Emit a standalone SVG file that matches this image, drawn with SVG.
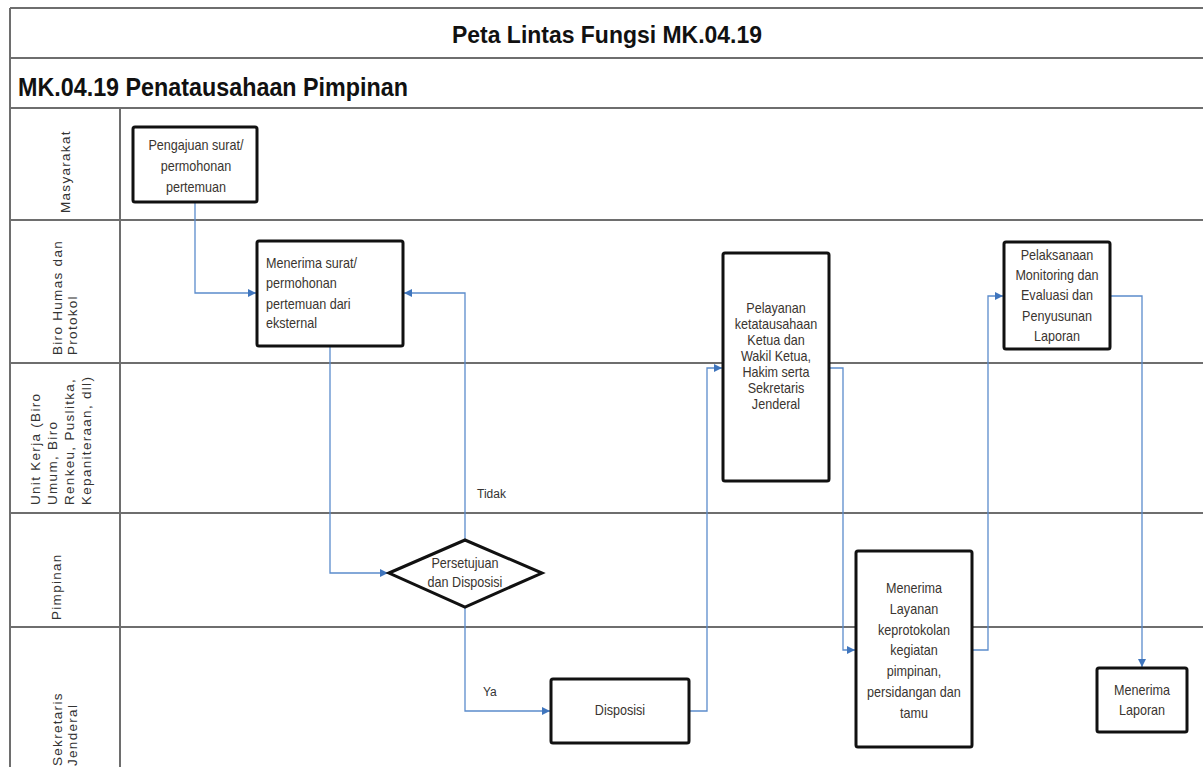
<svg xmlns="http://www.w3.org/2000/svg" width="1203" height="767" viewBox="0 0 1203 767">
<defs>
<style>
.grid{stroke:#6e6e6e;stroke-width:2;fill:none}
.box{fill:#fff;stroke:#111;stroke-width:3}
.t{font-family:"Liberation Sans",Arial,sans-serif;font-size:14px;fill:#3a3530}
.c{text-anchor:middle}
.lane{font-family:"Liberation Sans",Arial,sans-serif;font-size:13.5px;letter-spacing:1.3px;fill:#333}
.lbl{font-family:"Liberation Sans",Arial,sans-serif;font-size:12px;fill:#333}
.conn{stroke:#5b8ccc;stroke-width:1.3;fill:none;marker-end:url(#ah)}
</style>
<marker id="ah" viewBox="0 0 10 10" refX="10" refY="5" markerWidth="8" markerHeight="8" markerUnits="userSpaceOnUse" orient="auto">
<path d="M0,0 L10,5 L0,10 z" fill="#3f75bd"/>
</marker>
</defs>
<rect width="1203" height="767" fill="#fff"/>
<g id="frame">
<line class="grid" x1="10" y1="8" x2="1203" y2="8"/>
<line class="grid" x1="10" y1="58" x2="1203" y2="58"/>
<line class="grid" x1="10" y1="108" x2="1203" y2="108"/>
<line class="grid" x1="10" y1="220" x2="1203" y2="220"/>
<line class="grid" x1="10" y1="363" x2="1203" y2="363"/>
<line class="grid" x1="10" y1="513" x2="1203" y2="513"/>
<line class="grid" x1="10" y1="627" x2="1203" y2="627"/>
<line class="grid" x1="10" y1="8" x2="10" y2="767"/>
<line class="grid" x1="120" y1="108" x2="120" y2="767"/>
<text x="607" y="43" text-anchor="middle" textLength="310" lengthAdjust="spacingAndGlyphs" font-family="Liberation Sans,Arial,sans-serif" font-weight="bold" font-size="23" fill="#111">Peta Lintas Fungsi MK.04.19</text>
<text x="18" y="96" textLength="390" lengthAdjust="spacingAndGlyphs" font-family="Liberation Sans,Arial,sans-serif" font-weight="bold" font-size="26" fill="#111">MK.04.19 Penatausahaan Pimpinan</text>
</g>
<g id="lanes">
<text class="lane" transform="translate(70,213) rotate(-90)">Masyarakat</text>
<text class="lane" transform="translate(62,355) rotate(-90)">Biro Humas dan</text>
<text class="lane" transform="translate(77,355) rotate(-90)">Protokol</text>
<text class="lane" transform="translate(40,505) rotate(-90)">Unit Kerja (Biro</text>
<text class="lane" transform="translate(57,505) rotate(-90)">Umum, Biro</text>
<text class="lane" transform="translate(74,505) rotate(-90)">Renkeu, Puslitka,</text>
<text class="lane" transform="translate(91,505) rotate(-90)">Kepaniteraan, dll)</text>
<text class="lane" transform="translate(61,620) rotate(-90)">Pimpinan</text>
<text class="lane" transform="translate(62,766) rotate(-90)">Sekretaris</text>
<text class="lane" transform="translate(77,766) rotate(-90)">Jenderal</text>
</g>
<g id="connectors">
<polyline class="conn" points="195,203 195,293 256,293"/>
<polyline class="conn" points="330,346 330,573 388,573"/>
<polyline class="conn" points="465,539 465,293 404,293"/>
<polyline class="conn" points="465,607 465,711 550,711"/>
<polyline class="conn" points="689,711 707,711 707,368 722,368"/>
<polyline class="conn" points="830,368 843,368 843,650 855,650"/>
<polyline class="conn" points="972,650 988,650 988,296 1003,296"/>
<polyline class="conn" points="1110,296 1142,296 1142,667"/>
<text class="lbl" x="477" y="498">Tidak</text>
<text class="lbl" x="483" y="696">Ya</text>
</g>
<g id="n1">
<rect class="box" x="133" y="127" width="124" height="75" rx="2"/>
<g transform="matrix(0.9,0,0,1,19.6,0)">
<text class="t c" x="196" y="150">Pengajuan surat/</text>
<text class="t c" x="196" y="171">permohonan</text>
<text class="t c" x="196" y="192">pertemuan</text>
</g>
</g>
<g id="n2">
<rect class="box" x="257" y="241" width="146" height="105" rx="2"/>
<g transform="matrix(0.9,0,0,1,26.6,0)">
<text class="t" x="266" y="268">Menerima surat/</text>
<text class="t" x="266" y="288">permohonan</text>
<text class="t" x="266" y="309">pertemuan dari</text>
<text class="t" x="266" y="328">eksternal</text>
</g>
</g>
<g id="n3">
<polygon points="389,573 465,540 542,573 465,607" fill="#fff" stroke="#111" stroke-width="3" stroke-linejoin="miter"/>
<g transform="matrix(0.9,0,0,1,46.5,0)">
<text class="t c" x="465" y="568">Persetujuan</text>
<text class="t c" x="465" y="587">dan Disposisi</text>
</g>
</g>
<g id="n4">
<rect class="box" x="551" y="679" width="138" height="64" rx="2"/>
<g transform="matrix(0.9,0,0,1,62,0)">
<text class="t c" x="620" y="715">Disposisi</text>
</g>
</g>
<g id="n5">
<rect class="box" x="723" y="253" width="106" height="228" rx="2"/>
<g transform="matrix(0.9,0,0,1,77.6,0)">
<text class="t c" x="776" y="313">Pelayanan</text>
<text class="t c" x="776" y="329">ketatausahaan</text>
<text class="t c" x="776" y="345">Ketua dan</text>
<text class="t c" x="776" y="361">Wakil Ketua,</text>
<text class="t c" x="776" y="377">Hakim serta</text>
<text class="t c" x="776" y="393">Sekretaris</text>
<text class="t c" x="776" y="409">Jenderal</text>
</g>
</g>
<g id="n6">
<rect class="box" x="856" y="551" width="116" height="196" rx="2"/>
<g transform="matrix(0.9,0,0,1,91.4,0)">
<text class="t c" x="914" y="593">Menerima</text>
<text class="t c" x="914" y="614">Layanan</text>
<text class="t c" x="914" y="635">keprotokolan</text>
<text class="t c" x="914" y="655">kegiatan</text>
<text class="t c" x="914" y="676">pimpinan,</text>
<text class="t c" x="914" y="697">persidangan dan</text>
<text class="t c" x="914" y="718">tamu</text>
</g>
</g>
<g id="n7">
<rect class="box" x="1004" y="242" width="106" height="107" rx="2"/>
<g transform="matrix(0.9,0,0,1,105.7,0)">
<text class="t c" x="1057" y="260">Pelaksanaan</text>
<text class="t c" x="1057" y="280">Monitoring dan</text>
<text class="t c" x="1057" y="300">Evaluasi dan</text>
<text class="t c" x="1057" y="321">Penyusunan</text>
<text class="t c" x="1057" y="341">Laporan</text>
</g>
</g>
<g id="n8">
<rect class="box" x="1097" y="668" width="90" height="64" rx="2"/>
<g transform="matrix(0.9,0,0,1,114.2,0)">
<text class="t c" x="1142" y="695">Menerima</text>
<text class="t c" x="1142" y="715">Laporan</text>
</g>
</g>
</svg>
